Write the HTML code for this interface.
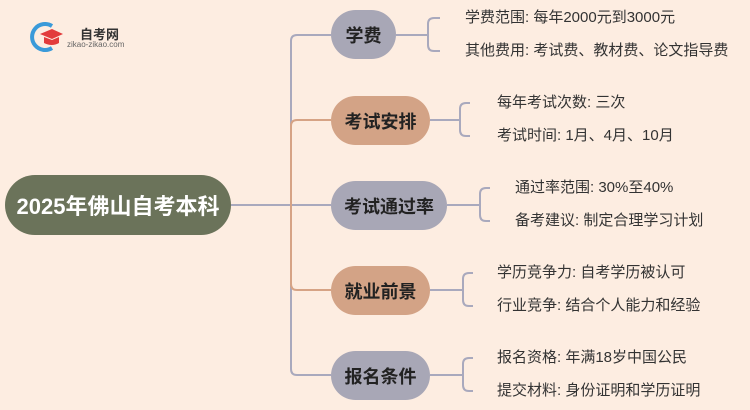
<!DOCTYPE html>
<html><head><meta charset="utf-8"><style>
body{margin:0;width:750px;height:410px;background:#fdede1;overflow:hidden;font-family:"Liberation Sans","Noto Sans CJK SC",sans-serif;position:relative}
.n{position:absolute;display:flex;align-items:center;justify-content:center;border-radius:25px;font-weight:bold;font-size:18px;color:#222}
.g{background:#a8a7b6}.o{background:#d3a386}
.t{position:absolute;font-size:15px;color:#333;white-space:nowrap;line-height:18px}
</style></head><body>
<svg width="750" height="410" style="position:absolute;left:0;top:0" fill="none" stroke-width="2">
<g stroke="#a9a9bd">
<path d="M231 205H291V41Q291 35 297 35H331"/>
<path d="M231 205H291V369Q291 375 297 375H331"/>
<path d="M231 205H331"/>
<path d="M396 35H428M440 18H434Q428 18 428 24V45Q428 51 434 51H440"/>
<path d="M430 120H460M470 103H466Q460 103 460 109V130Q460 136 466 136H470"/>
<path d="M447 205H480M490 188H486Q480 188 480 194V215Q480 221 486 221H490"/>
<path d="M430 290H463M473 273H469Q463 273 463 279V300Q463 306 469 306H473"/>
<path d="M430 375H463M473 358H469Q463 358 463 364V385Q463 391 469 391H473"/>
</g>
<g stroke="#d6a385">
<path d="M291 205V126Q291 120 297 120H331"/>
<path d="M291 205V284Q291 290 297 290H331"/>
</g>
</svg>
<svg width="34" height="30" style="position:absolute;left:30px;top:22px" viewBox="0 0 34 30">
<path d="M22 4A13 13 0 1 0 22 26" stroke="#3a9ad9" stroke-width="4" fill="none"/>
<path d="M10 12L22 7L33 12L22 17Z" fill="#e23b3b"/><path d="M14 15V21Q22 25 29 21V15L22 18Z" fill="#e23b3b"/>
</svg>
<div style="position:absolute;left:80px;top:24px;font-size:13px;font-weight:bold;color:#333">自考网</div>
<div style="position:absolute;left:67px;top:40px;font-size:8px;color:#666">zikao-zikao.com</div>
<div class="n" style="left:5px;top:175px;width:226px;height:60px;border-radius:30px;background:#6b735a;color:#fff;font-size:22px">2025年佛山自考本科</div>
<div class="n g" style="left:331px;top:10px;width:65px;height:49px">学费</div>
<div class="n o" style="left:331px;top:96px;width:99px;height:49px">考试安排</div>
<div class="n g" style="left:331px;top:181px;width:116px;height:49px">考试通过率</div>
<div class="n o" style="left:331px;top:266px;width:99px;height:49px">就业前景</div>
<div class="n g" style="left:331px;top:351px;width:99px;height:49px">报名条件</div>
<div class="t" style="left:465px;top:9px">学费范围: 每年2000元到3000元</div>
<div class="t" style="left:465px;top:42px">其他费用: 考试费、教材费、论文指导费</div>
<div class="t" style="left:497px;top:94px">每年考试次数: 三次</div>
<div class="t" style="left:497px;top:127px">考试时间: 1月、4月、10月</div>
<div class="t" style="left:515px;top:179px">通过率范围: 30%至40%</div>
<div class="t" style="left:515px;top:212px">备考建议: 制定合理学习计划</div>
<div class="t" style="left:497px;top:264px">学历竞争力: 自考学历被认可</div>
<div class="t" style="left:497px;top:297px">行业竞争: 结合个人能力和经验</div>
<div class="t" style="left:497px;top:349px">报名资格: 年满18岁中国公民</div>
<div class="t" style="left:497px;top:382px">提交材料: 身份证明和学历证明</div>
</body></html>
